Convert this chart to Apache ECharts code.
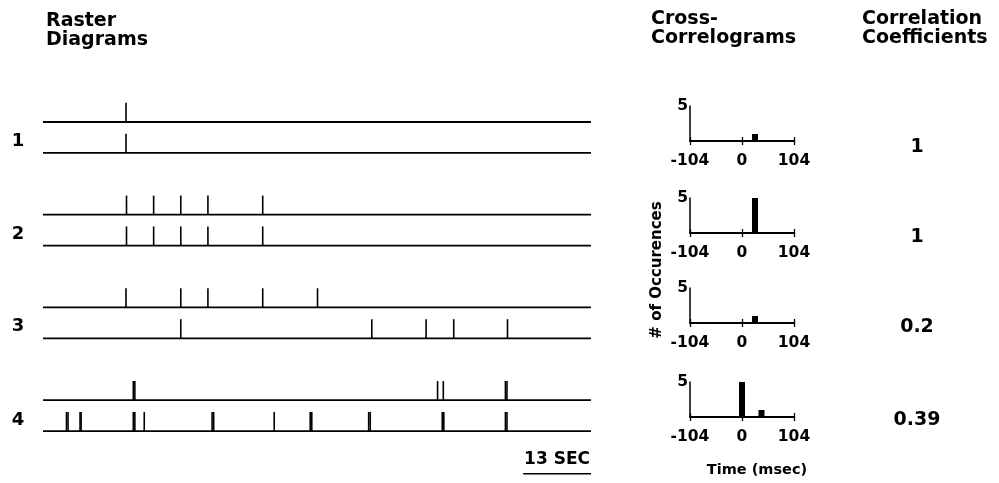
<!DOCTYPE html>
<html><head><meta charset="utf-8">
<script src="https://cdn.jsdelivr.net/npm/echarts@6/dist/echarts.min.js"></script>
<style>html,body{margin:0;padding:0;background:#fff}#c{width:999px;height:483px}</style>
</head><body><div id="c"></div>
<script>
// ---- Raster data: spike times in seconds (bursts given as close pairs) ----
const train1a = [15.9];
const train1b = [15.9];
const train2a = [16.0, 21.2, 26.4, 31.6, 42.1];
const train2b = [16.0, 21.2, 26.4, 31.6, 42.1];
const train3a = [15.9, 26.4, 31.6, 42.1, 52.6];
const train3b = [26.4, 63.0, 73.4, 78.7, 89.0];
const train4a = [17.3, 17.6, 75.6, 76.7, 88.6, 88.9];
const train4b = [4.5, 4.8, 7.1, 7.3, 17.3, 17.6, 19.4, 32.4, 32.7, 44.3, 51.2, 51.5, 62.4, 62.7, 76.5, 76.8, 88.6, 88.9];
const trains = [train1a, train1b, train2a, train2b, train3a, train3b, train4a, train4b];
const pairLabels = ['1', '2', '3', '4'];
const recordLength = 105;   // seconds
const scaleBarSec = 13;

// ---- Cross-correlograms: lag bins (msec) and counts ----
const lags1 = [26];     const counts1 = [1];
const lags2 = [26];     const counts2 = [5];
const lags3 = [26];     const counts3 = [1];
const lags4 = [0, 39];  const counts4 = [5, 1];
const lagTicks = [-104, 0, 104];
const countTicks = [5];

// ---- Correlation coefficients ----
const corrCoefs = ['1', '1', '0.2', '0.39'];

const FONT = 'DejaVu Sans';
const BLACK = '#000';
const chart = echarts.init(document.getElementById('c'), null, {renderer: 'canvas'});

// row position (in raster y-units) for each train: pairs 1 unit apart, pairs 3 units apart
const rowOf = i => Math.floor(i / 2) * 3 + (i % 2);

const spikeData = [];
trains.forEach((tr, i) => tr.forEach(t => spikeData.push([t, rowOf(i)])));
const baseData = trains.map((tr, i) => [0, rowOf(i)]);

const grids = [{left: 43, width: 548, top: 91.1, height: 386.3}];
const xAxes = [{gridIndex: 0, type: 'value', min: 0, max: recordLength, show: false}];
const yAxes = [{gridIndex: 0, type: 'value', inverse: true, min: -1, max: 11.5, show: false}];
const series = [
  {
    type: 'custom', xAxisIndex: 0, yAxisIndex: 0, data: baseData, silent: true,
    renderItem: (p, api) => {
      const a = api.coord([0, api.value(1)]);
      const b = api.coord([recordLength, api.value(1)]);
      return {type: 'line', shape: {x1: a[0], y1: a[1], x2: b[0], y2: b[1]}, style: {stroke: BLACK, lineWidth: 1.8}};
    }
  },
  {
    type: 'custom', xAxisIndex: 0, yAxisIndex: 0, data: spikeData, silent: true,
    renderItem: (p, api) => {
      const a = api.coord([api.value(0), api.value(1)]);
      const b = api.coord([api.value(0), api.value(1) - 0.62]);
      return {type: 'line', shape: {x1: a[0], y1: a[1], x2: b[0], y2: b[1]}, style: {stroke: BLACK, lineWidth: 1.6}};
    }
  },
  {
    type: 'custom', xAxisIndex: 0, yAxisIndex: 0, data: [[recordLength - scaleBarSec, recordLength]], silent: true,
    renderItem: (p, api) => {
      const a = api.coord([api.value(0), 11.38]);
      const b = api.coord([api.value(1), 11.38]);
      return {type: 'group', children: [
        {type: 'line', shape: {x1: a[0], y1: a[1], x2: b[0], y2: b[1]}, style: {stroke: BLACK, lineWidth: 1.5}},
        {type: 'text', style: {text: scaleBarSec + ' SEC', x: (a[0] + b[0]) / 2, y: a[1] - 14, align: 'center', verticalAlign: 'middle',
          font: 'bold 17px "' + FONT + '"', fill: BLACK}}
      ]};
    }
  }
];

const baselines = [141, 233, 323, 417];
const lagSets = [lags1, lags2, lags3, lags4];
const countSets = [counts1, counts2, counts3, counts4];
baselines.forEach((bl, k) => {
  const gi = k + 1;
  grids.push({left: 690, width: 104, top: bl - 35, height: 35});
  const xi = xAxes.length;
  xAxes.push({
    gridIndex: gi, type: 'value', min: -104, max: 104, position: 'bottom',
    axisLine: {show: true, onZero: false, lineStyle: {color: BLACK, width: 1.8}},
    axisTick: {show: true, customValues: lagTicks, length: 4, lineStyle: {color: BLACK, width: 1.3}},
    axisLabel: {show: true, customValues: lagTicks, margin: 12, color: BLACK, fontFamily: FONT, fontWeight: 'bold', fontSize: 15.5},
    splitLine: {show: false}
  });
  xAxes.push({
    gridIndex: gi, type: 'value', min: -104, max: 104, position: 'bottom',
    axisLine: {show: false},
    axisTick: {show: true, inside: true, customValues: lagTicks, length: 4, lineStyle: {color: BLACK, width: 1.3}},
    axisLabel: {show: false}, splitLine: {show: false}
  });
  yAxes.push({
    gridIndex: gi, type: 'value', min: 0, max: 5, position: 'left',
    axisLine: {show: true, onZero: false, lineStyle: {color: BLACK, width: 1.5}},
    axisTick: {show: false},
    axisLabel: {show: true, customValues: countTicks, margin: 2, color: BLACK, fontFamily: FONT, fontWeight: 'bold', fontSize: 15.5},
    splitLine: {show: false}
  });
  series.push({
    type: 'bar', xAxisIndex: xi, yAxisIndex: gi, barWidth: 6, silent: true,
    itemStyle: {color: BLACK},
    data: lagSets[k].map((l, i) => [l, countSets[k][i]])
  });
});

const hdr = 'bold 19px "' + FONT + '"';
const graphic = [
  {type: 'text', left: 46, top: 12, style: {text: 'Raster\nDiagrams', font: hdr, lineHeight: 19, fill: BLACK}},
  {type: 'text', left: 651, top: 10, style: {text: 'Cross-\nCorrelograms', font: hdr, lineHeight: 19, fill: BLACK}},
  {type: 'text', left: 862, top: 10, style: {text: 'Correlation\nCoefficients', font: hdr, lineHeight: 19, fill: BLACK}},
  {type: 'text', x: 757, y: 470, style: {text: 'Time (msec)', font: 'bold 14.5px "' + FONT + '"', fill: BLACK, align: 'center', verticalAlign: 'middle'}},
  {type: 'text', x: 657, y: 270, rotation: Math.PI / 2, style: {text: '# of Occurences', font: 'bold 15px "' + FONT + '"', fill: BLACK, align: 'center', verticalAlign: 'middle'}}
];
const rowLabelY = [141, 234, 326, 420];
pairLabels.forEach((t, i) => graphic.push({type: 'text', x: 18, y: rowLabelY[i], style: {text: t, font: 'bold 18px "' + FONT + '"', fill: BLACK, align: 'center', verticalAlign: 'middle'}}));
const coefY = [147, 237, 327, 420];
corrCoefs.forEach((t, i) => graphic.push({type: 'text', x: 917, y: coefY[i], style: {text: t, font: 'bold 19px "' + FONT + '"', fill: BLACK, align: 'center', verticalAlign: 'middle'}}));

chart.setOption({
  backgroundColor: '#fff',
  animation: false,
  grid: grids,
  xAxis: xAxes,
  yAxis: yAxes,
  series: series,
  graphic: graphic
});
</script></body></html>
